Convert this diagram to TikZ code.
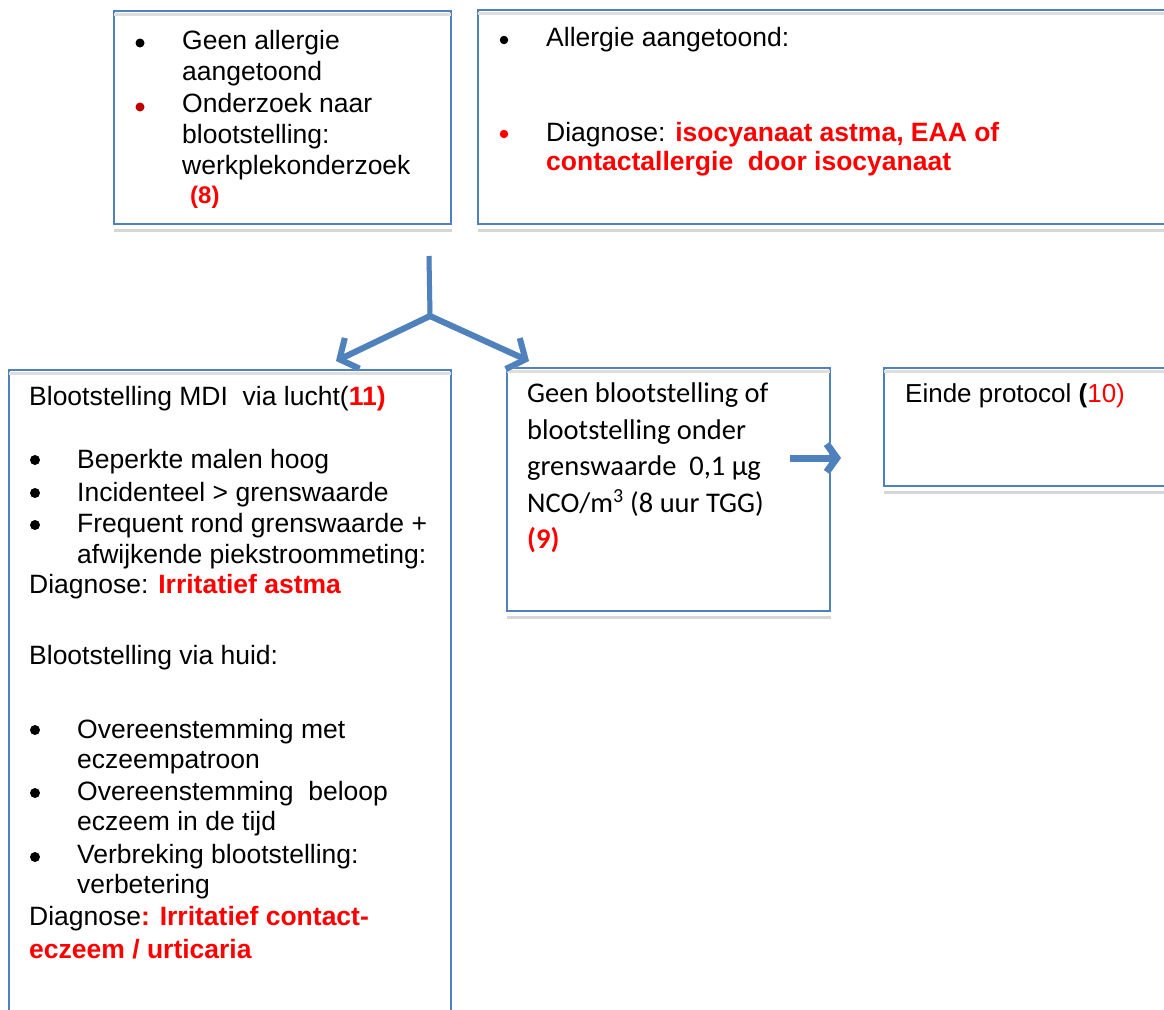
\documentclass[tikz,border=0pt]{standalone}
\usepackage{fontspec}
\setmainfont{Liberation Sans}
\newfontfamily\calib{Carlito}
\usetikzlibrary{arrows.meta}
\definecolor{boxblue}{RGB}{79,129,189}
\definecolor{txtred}{RGB}{255,0,0}
\definecolor{bulred}{RGB}{192,0,0}
\definecolor{shadowgray}{RGB}{214,214,214}
\begin{document}
\begin{tikzpicture}[x=1pt,y=-1pt,
  boxnode/.style={draw=boxblue, line width=1.6pt, inner sep=0pt, anchor=north west},
  shadowline/.style={draw=shadowgray, line width=3.5pt},
  innerline/.style={draw=shadowgray!80, line width=2.5pt},
  txt/.style={anchor=base west, inner sep=0pt, font=\fontsize{26.5}{31}\selectfont},
  dtxt/.style={anchor=base west, inner sep=0pt, font=\calib\fontsize{28.5}{34}\selectfont},
  bul/.style={circle, fill=black, inner sep=0pt, minimum size=9pt},
  bigarrow/.style={draw=boxblue, line width=6pt, -{Straight Barb[length=14pt,width=34pt]}},
  bigshadow/.style={draw=shadowgray, line width=6pt, -{Straight Barb[length=14pt,width=34pt]}},
  smallarrow/.style={draw=boxblue, line width=7pt, -{Straight Barb[length=10pt,width=28pt]}},
  smallshadow/.style={draw=shadowgray, line width=7pt, -{Straight Barb[length=10pt,width=28pt]}}
]
\useasboundingbox (0,0) rectangle (1164,1009);
\clip (0,0) rectangle (1164,1009);

% ---------- boxes ----------
\node[boxnode, minimum width=337pt, minimum height=213pt] (A) at (113,10) {};
\node[boxnode, minimum width=720pt, minimum height=214pt] (B) at (477,9) {};
\node[boxnode, minimum width=442pt, minimum height=680pt] (C) at (8,369) {};
\node[boxnode, minimum width=323pt, minimum height=243pt] (D) at (506,367) {};
\node[boxnode, minimum width=320pt, minimum height=118pt] (E) at (883,367) {};

% ---------- shadows ----------
\foreach \b in {A,B,C,D,E}{
  \draw[shadowline] ([yshift=-6pt,xshift=1pt]\b.south west) -- ([yshift=-6pt]\b.south east);
  \draw[innerline] ([yshift=-4.5pt,xshift=1pt]\b.north west) -- ([yshift=-4.5pt,xshift=-1pt]\b.north east);
}

% ---------- box A ----------
\node[bul] (ab1) at (140,43) {};
\node[bul, fill=bulred] (ab2) at (140,107) {};
\node[txt] (a1) at (182,49.5) {Geen allergie};
\node[txt] (a2) at (182,80) {aangetoond};
\node[txt] (a3) at (182,112.5) {Onderzoek naar};
\node[txt] (a4) at (182,143) {blootstelling:};
\node[txt] (a5) at (182,174.5) {werkplekonderzoek};
\node[txt, font=\fontsize{24}{28}\selectfont] (a6) at (190,203) {\bfseries\color{txtred}(8)};

% ---------- box B ----------
\node[bul, minimum size=8.5pt] (bb1) at (504,40) {};
\node[bul, minimum size=8.5pt, fill=txtred] (bb2) at (504,134) {};
\node[txt] (b1) at (546,46.5) {Allergie aangetoond:};
\node[txt] (b2) at (546,141.5) {Diagnose: \textbf{\color{txtred}isocyanaat astma, EAA of}};
\node[txt] (b3) at (546,170) {\bfseries\color{txtred}contactallergie\ \ door isocyanaat};

% ---------- box C ----------
\node[txt] (c1) at (29,405) {Blootstelling MDI\ \ via lucht(\textbf{\color{txtred}11)}};
\node[bul, minimum size=10pt] (cb1) at (35,460) {};
\node[bul, minimum size=10pt] (cb2) at (35,493) {};
\node[bul, minimum size=10pt] (cb3) at (35,525) {};
\node[txt] (c2) at (77,468) {Beperkte malen hoog};
\node[txt] (c3) at (77,501) {Incidenteel > grenswaarde};
\node[txt] (c4) at (77,532) {Frequent rond grenswaarde +};
\node[txt] (c5) at (77,563) {afwijkende piekstroommeting:};
\node[txt] (c6) at (29,593) {Diagnose: \textbf{\color{txtred}Irritatief astma}};
\node[txt] (c7) at (29,664) {Blootstelling via huid:};
\node[bul, minimum size=10pt] (cb4) at (35,730) {};
\node[bul, minimum size=10pt] (cb5) at (35,793) {};
\node[bul, minimum size=10pt] (cb6) at (35,857) {};
\node[txt] (c8) at (77,738) {Overeenstemming met};
\node[txt] (c9) at (77,768) {eczeempatroon};
\node[txt] (c10) at (77,800) {Overeenstemming\ \ beloop};
\node[txt] (c11) at (77,830) {eczeem in de tijd};
\node[txt] (c12) at (77,863) {Verbreking blootstelling:};
\node[txt] (c13) at (77,893) {verbetering};
\node[txt] (c14) at (29,925) {Diagnose\textbf{\color{txtred}: Irritatief contact-}};
\node[txt] (c15) at (29,958) {\bfseries\color{txtred}eczeem / urticaria};

% ---------- box D ----------
\node[dtxt] (d1) at (527,402) {Geen blootstelling of};
\node[dtxt] (d2) at (527,439) {blootstelling onder};
\node[dtxt] (d3) at (527,475) {grenswaarde\ \ 0,1 µg};
\node[dtxt] (d4) at (527,512) {NCO/m\textsuperscript{3} (8 uur TGG)};
\node[dtxt] (d5) at (527,548) {\bfseries\color{txtred}(9)};

% ---------- box E ----------
\node[txt, font=\fontsize{26}{31}\selectfont] (e1) at (905,402) {Einde protocol \textbf{(}{\color{txtred}10)}};

% ---------- connectors ----------
\coordinate (ftop) at (429,256);
\coordinate (fork) at (430,316);
\coordinate (lend) at (336,361);
\coordinate (rend) at (529,361);
\coordinate (dstart) at (790,458);
\coordinate (dend) at (841,458);

\begin{scope}[shift={(2.5,3)}]
  \draw[shadowgray, line width=5pt] (ftop) -- (fork);
  \draw[bigshadow] (fork) -- (lend);
  \draw[bigshadow] (fork) -- (rend);
  \draw[smallshadow] (dstart) -- (dend);
\end{scope}
\draw[boxblue, line width=5pt] (ftop) -- (fork);
\draw[bigarrow] (fork) -- (lend);
\draw[bigarrow] (fork) -- (rend);
\draw[smallarrow] (dstart) -- (dend);
\end{tikzpicture}
\end{document}
